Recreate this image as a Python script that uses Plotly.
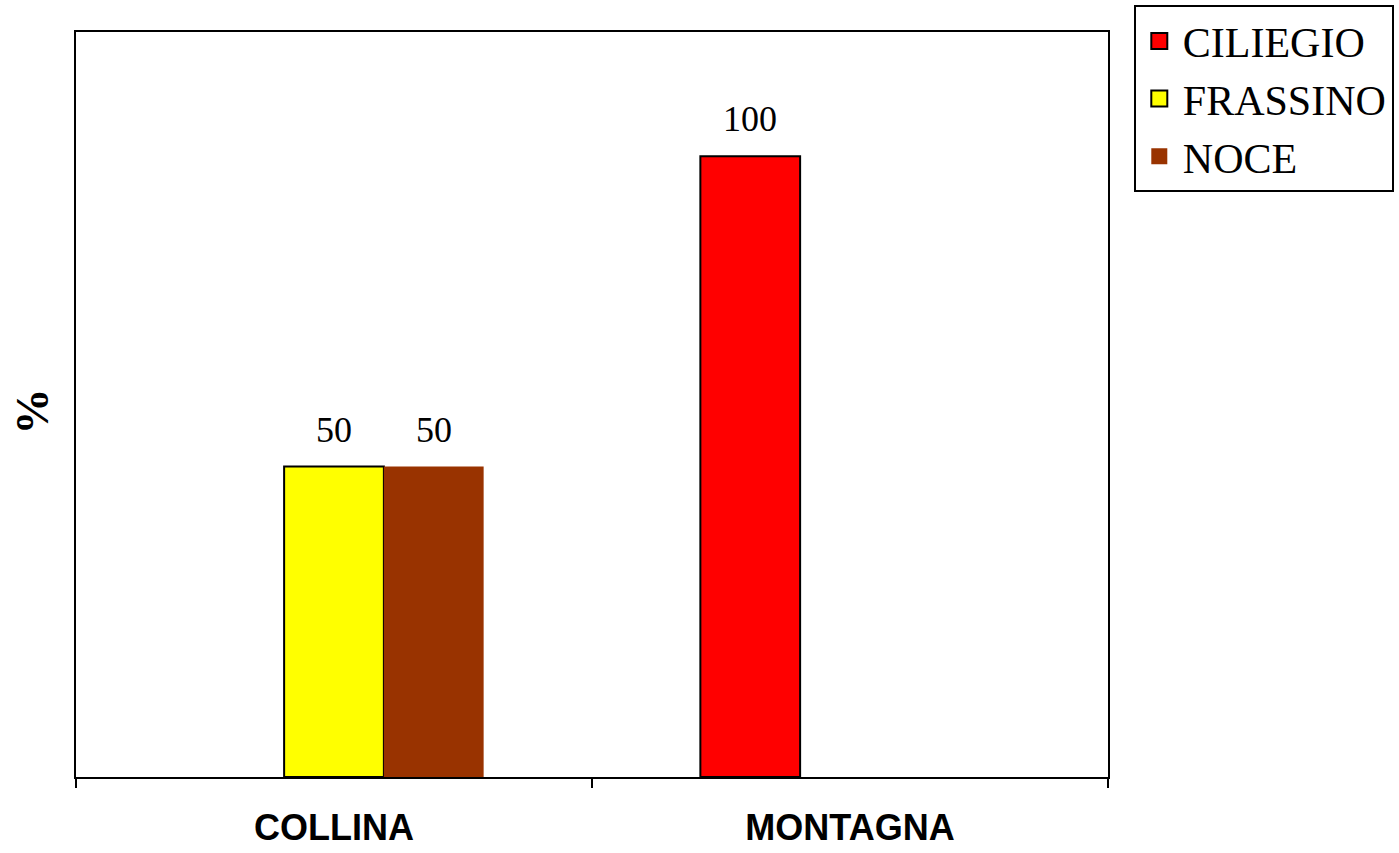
import plotly.graph_objects as go

categories = ["COLLINA", "MONTAGNA"]
series_names = ["CILIEGIO", "FRASSINO", "NOCE"]
ciliegio = [None, 100]
frassino = [50, None]
noce = [50, None]
y_title = "%"

colors = {"CILIEGIO": "#FF0000", "FRASSINO": "#FFFF00", "NOCE": "#993300"}
outline = {"CILIEGIO": ("black", 2), "FRASSINO": ("black", 2), "NOCE": ("#993300", 0)}

serif = "Liberation Serif, Times New Roman, serif"
sans_bold = "Liberation Sans, Arial, sans-serif"

bargap = 0.42
n_series = len(series_names)
bar_w = (1 - bargap) / n_series
xpos = list(range(len(categories)))

fig = go.Figure()
for k, (name, vals) in enumerate(zip(series_names, [ciliegio, frassino, noce])):
    lc, lw = outline[name]
    offset = (k - (n_series - 1) / 2) * bar_w
    xs = [x + offset for x in xpos]
    fig.add_trace(go.Bar(
        name=name, x=xs, y=vals, width=bar_w,
        marker=dict(color=colors[name], line=dict(color=lc, width=lw)),
        showlegend=False,
    ))
    # value labels above each bar
    for xv, v in zip(xs, vals):
        if v is not None:
            fig.add_annotation(
                x=xv, y=v, xref="x", yref="y", text=str(v), showarrow=False,
                yanchor="middle", yshift=37,
                font=dict(family=serif, size=36, color="black"),
            )
    # legend entry with a larger square swatch
    fig.add_trace(go.Scatter(
        name=name, x=[None], y=[None], mode="markers",
        marker=dict(symbol="square", size=22, color=colors[name],
                    line=dict(color=lc if lw else colors[name], width=lw)),
        showlegend=True,
    ))

# rotated y axis title
fig.add_annotation(
    x=-0.042, y=0.49, xref="paper", yref="paper", text=f"<b>{y_title}</b>",
    textangle=-90, showarrow=False, xanchor="center", yanchor="middle",
    font=dict(family=serif, size=46, color="black"),
)

fig.update_layout(
    width=1399, height=853,
    margin=dict(l=76, r=291, t=32, b=76, autoexpand=False),
    paper_bgcolor="white", plot_bgcolor="white",
    barmode="overlay",
    legend=dict(
        x=1.025, y=1.036, xanchor="left", yanchor="top",
        font=dict(family=serif, size=42, color="black"),
        bordercolor="black", borderwidth=2, bgcolor="white",
        tracegroupgap=0, itemsizing="trace", itemwidth=37, entrywidth=300,
    ),
    xaxis=dict(
        range=[-0.5, 1.5], automargin=False,
        tickmode="array", tickvals=xpos, ticktext=categories,
        showline=True, linecolor="black", linewidth=2, mirror=True,
        ticks="", showgrid=False, zeroline=False,
        tickfont=dict(family=sans_bold, size=36, color="black", weight="bold"),
        ticklabelstandoff=18,
    ),
    xaxis2=dict(
        overlaying="x", range=[-0.5, 1.5], tickmode="array", tickvals=[-0.5, 0.5, 1.5],
        showticklabels=False, ticks="outside", ticklen=10, tickwidth=2, tickcolor="black",
        showgrid=False, zeroline=False, showline=False, side="bottom", automargin=False,
    ),
    yaxis=dict(
        range=[0, 120], automargin=False,
        showline=True, linecolor="black", linewidth=2, mirror=True,
        showticklabels=False, ticks="", showgrid=False, zeroline=False,
    ),
)
# invisible trace to display the boundary ticks on the secondary x axis
fig.add_trace(go.Scatter(x=[None], y=[None], xaxis="x2", showlegend=False, hoverinfo="skip"))

fig.write_html("out.html")
